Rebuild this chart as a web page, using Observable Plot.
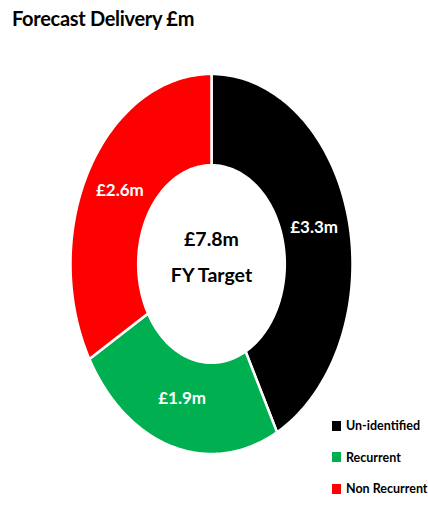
<!DOCTYPE html>
<html>
<head>
<meta charset="utf-8">
<script src="https://cdn.jsdelivr.net/npm/d3@7"></script>
<script src="https://cdn.jsdelivr.net/npm/@observablehq/plot@0.6"></script>
<style>
  html, body { margin: 0; padding: 0; background: #fff; }
  #wrap { position: relative; width: 428px; height: 506px; overflow: hidden; font-family: Lato, "Open Sans", sans-serif; }
  #title { position: absolute; left: 12px; top: 6px; font-size: 20px; font-weight: bold; color: #000; letter-spacing: -0.3px; }
  #chart { position: absolute; left: 0; top: 45px; }
  #legend { position: absolute; left: 332px; top: 410px; font-size: 12.5px; font-weight: bold; color: #000; }
  .item { display: flex; align-items: center; height: 31.5px; white-space: nowrap; }
  .sw { width: 9px; height: 10px; margin-right: 5px; }
</style>
</head>
<body>
<div id="wrap">
  <div id="title"></div>
  <div id="chart"></div>
  <div id="legend"></div>
</div>
<script>
const title = "Forecast Delivery £m";
const categories = ["Un-identified", "Recurrent", "Non Recurrent"];
const values = [3.3, 1.9, 2.6];
const colors = ["#000000", "#00B050", "#FF0000"];
const centerCaption = "FY Target";

const fmt = v => "£" + v.toFixed(1) + "m";
const total = d3.sum(values);

document.getElementById("title").textContent = title;

const arcs = d3.pie().sort(null)(values);
const inner = 0.52, outer = 1;
const steps = 120;
const polys = [];
const labels = [];
arcs.forEach((a, i) => {
  const key = categories[i];
  for (let k = 0; k <= steps; k++) {
    const t = a.startAngle + (a.endAngle - a.startAngle) * k / steps;
    polys.push({key, x: outer * Math.sin(t), y: outer * Math.cos(t)});
  }
  for (let k = steps; k >= 0; k--) {
    const t = a.startAngle + (a.endAngle - a.startAngle) * k / steps;
    polys.push({key, x: inner * Math.sin(t), y: inner * Math.cos(t)});
  }
  const m = (a.startAngle + a.endAngle) / 2;
  const r = 0.75;
  labels.push({x: r * Math.sin(m), y: r * Math.cos(m), text: fmt(values[i])});
});

const plot = Plot.plot({
  width: 428,
  height: 461,
  margin: 0,
  x: {domain: [-1, 1], range: [70, 352], axis: null},
  y: {domain: [-1, 1], range: [408.5, 28.5], axis: null},
  color: {domain: categories, range: colors},
  style: {fontFamily: "Lato, 'Open Sans', sans-serif", background: "white"},
  marks: [
    Plot.line(polys, {x: "x", y: "y", z: "key", fill: "key", stroke: "white", strokeWidth: 2.5, curve: "linear-closed"}),
    Plot.text(labels, {x: "x", y: "y", text: "text", dy: -2, fill: "white", fontWeight: "bold", fontSize: 17}),
    Plot.text([fmt(total) + "\n" + centerCaption], {x: () => 0, y: () => 0, text: d => d, dy: -12, lineHeight: 1.85, fill: "black", fontWeight: "bold", fontSize: 19.5})
  ]
});
document.getElementById("chart").appendChild(plot);

const legend = document.getElementById("legend");
categories.forEach((c, i) => {
  const row = document.createElement("div");
  row.className = "item";
  const sw = document.createElement("span");
  sw.className = "sw";
  sw.style.background = colors[i];
  const lab = document.createElement("span");
  lab.textContent = c;
  row.appendChild(sw);
  row.appendChild(lab);
  legend.appendChild(row);
});
</script>
</body>
</html>
